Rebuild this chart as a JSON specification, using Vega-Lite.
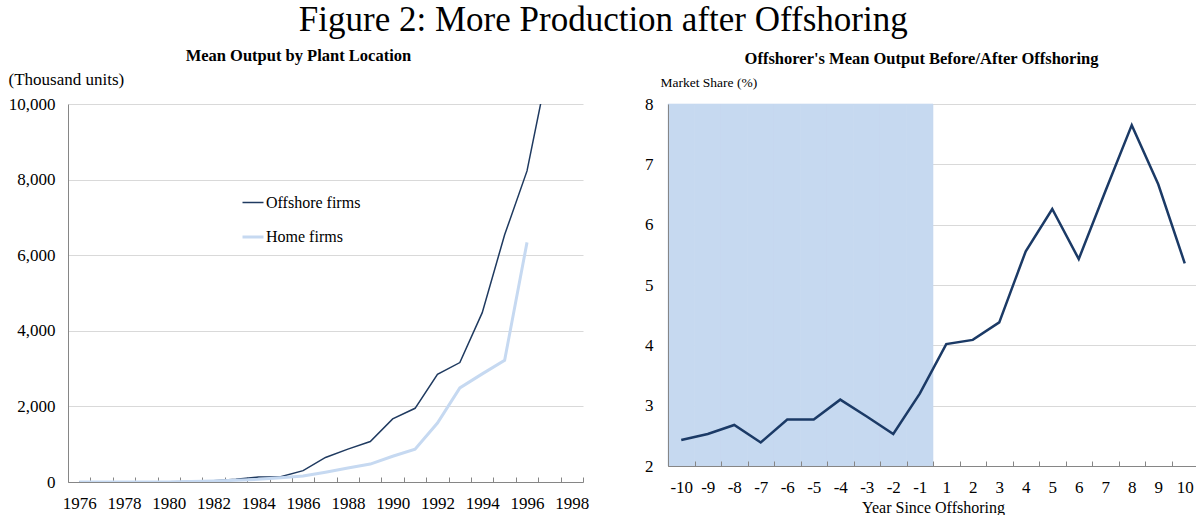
{
  "$schema": "https://vega.github.io/schema/vega-lite/v6.json",
  "padding": {"left": 8, "top": 2, "right": 0, "bottom": 0},
  "title": {"text": "Figure 2: More Production after Offshoring", "fontSize": 35, "font": "Liberation Serif", "fontWeight": "normal", "anchor": "middle", "color": "#000000", "offset": 10},
  "config": {
    "view": {"stroke": null},
    "font": "Liberation Serif",
    "axis": {"labelFont": "Liberation Serif", "titleFont": "Liberation Serif", "labelColor": "#000000", "titleColor": "#000000", "domainColor": "#868686", "tickColor": "#868686", "gridColor": "#D9D9D9", "labelFontSize": 17, "titleFontWeight": "normal"}
  },
  "spacing": 55,
  "hconcat": [
    {
      "width": 515,
      "height": 378,
      "title": {"text": "Mean Output by Plant Location", "fontSize": 16.5, "fontWeight": "bold", "frame": "bounds", "anchor": "middle", "offset": 6, "color": "#000000", "font": "Liberation Serif"},
      "data": {"values": [
        {"year": 1976, "series": "Offshore firms", "value": 0},
        {"year": 1977, "series": "Offshore firms", "value": 0},
        {"year": 1978, "series": "Offshore firms", "value": 0},
        {"year": 1979, "series": "Offshore firms", "value": 0},
        {"year": 1980, "series": "Offshore firms", "value": 5},
        {"year": 1981, "series": "Offshore firms", "value": 15},
        {"year": 1982, "series": "Offshore firms", "value": 35},
        {"year": 1983, "series": "Offshore firms", "value": 70},
        {"year": 1984, "series": "Offshore firms", "value": 130},
        {"year": 1985, "series": "Offshore firms", "value": 140},
        {"year": 1986, "series": "Offshore firms", "value": 300},
        {"year": 1987, "series": "Offshore firms", "value": 650},
        {"year": 1988, "series": "Offshore firms", "value": 870},
        {"year": 1989, "series": "Offshore firms", "value": 1070},
        {"year": 1990, "series": "Offshore firms", "value": 1670},
        {"year": 1991, "series": "Offshore firms", "value": 1950},
        {"year": 1992, "series": "Offshore firms", "value": 2850},
        {"year": 1993, "series": "Offshore firms", "value": 3160},
        {"year": 1994, "series": "Offshore firms", "value": 4480},
        {"year": 1995, "series": "Offshore firms", "value": 6540},
        {"year": 1996, "series": "Offshore firms", "value": 8230},
        {"year": 1997, "series": "Offshore firms", "value": 11150},
        {"year": 1976, "series": "Home firms", "value": 0},
        {"year": 1977, "series": "Home firms", "value": 0},
        {"year": 1978, "series": "Home firms", "value": 0},
        {"year": 1979, "series": "Home firms", "value": 0},
        {"year": 1980, "series": "Home firms", "value": 0},
        {"year": 1981, "series": "Home firms", "value": 10},
        {"year": 1982, "series": "Home firms", "value": 25},
        {"year": 1983, "series": "Home firms", "value": 45},
        {"year": 1984, "series": "Home firms", "value": 70},
        {"year": 1985, "series": "Home firms", "value": 110},
        {"year": 1986, "series": "Home firms", "value": 160},
        {"year": 1987, "series": "Home firms", "value": 260},
        {"year": 1988, "series": "Home firms", "value": 370},
        {"year": 1989, "series": "Home firms", "value": 475},
        {"year": 1990, "series": "Home firms", "value": 680},
        {"year": 1991, "series": "Home firms", "value": 870},
        {"year": 1992, "series": "Home firms", "value": 1560},
        {"year": 1993, "series": "Home firms", "value": 2490},
        {"year": 1994, "series": "Home firms", "value": 2860},
        {"year": 1995, "series": "Home firms", "value": 3220},
        {"year": 1996, "series": "Home firms", "value": 6340}
      ]},
      "mark": {"type": "line", "clip": true},
      "encoding": {
        "x": {
          "field": "year", "type": "ordinal",
          "scale": {"type": "band", "paddingInner": 0, "paddingOuter": 0, "domain": [1976,1977,1978,1979,1980,1981,1982,1983,1984,1985,1986,1987,1988,1989,1990,1991,1992,1993,1994,1995,1996,1997,1998]},
          "bandPosition": 0.5,
          "axis": {"title": null, "labelAngle": 0, "labelExpr": "datum.value % 2 == 0 ? datum.label : ''", "labelOverlap": false, "tickBand": "extent", "tickSize": -5, "labelPadding": 18, "labelFontSize": 17}
        },
        "y": {
          "field": "value", "type": "quantitative",
          "scale": {"domain": [0, 10000], "nice": false},
          "axis": {"values": [0, 2000, 4000, 6000, 8000, 10000], "format": ",d", "ticks": false, "labelPadding": 13, "labelFontSize": 17, "title": "(Thousand units)", "titleAngle": 0, "titleAlign": "left", "titleBaseline": "middle", "titleX": -60, "titleY": -25, "titleFontSize": 17}
        },
        "color": {
          "field": "series", "type": "nominal",
          "scale": {"domain": ["Offshore firms", "Home firms"], "range": ["#1F3A60", "#C6D9F1"]},
          "legend": {"title": null, "orient": "none", "legendX": 173, "legendY": 87, "symbolType": "stroke", "symbolSize": 441, "labelFontSize": 16, "labelFont": "Liberation Serif", "labelColor": "#000000", "labelOffset": 1, "rowPadding": 14, "padding": 0}
        },
        "strokeWidth": {
          "field": "series", "type": "nominal",
          "scale": {"domain": ["Offshore firms", "Home firms"], "range": [1.5, 3]},
          "legend": {"title": null, "orient": "none", "legendX": 173, "legendY": 87, "symbolType": "stroke", "symbolSize": 441, "labelFontSize": 16, "labelFont": "Liberation Serif", "labelColor": "#000000", "labelOffset": 1, "rowPadding": 14, "padding": 0}
        }
      }
    },
    {
      "width": 530,
      "height": 362,
      "title": {"text": "Offshorer's Mean Output Before/After Offshoring", "fontSize": 16.5, "fontWeight": "bold", "frame": "bounds", "anchor": "middle", "offset": 8, "color": "#000000", "font": "Liberation Serif"},
      "data": {"values": [
        {"year": -10, "share": 2.43},
        {"year": -9, "share": 2.53},
        {"year": -8, "share": 2.68},
        {"year": -7, "share": 2.39},
        {"year": -6, "share": 2.77},
        {"year": -5, "share": 2.77},
        {"year": -4, "share": 3.10},
        {"year": -3, "share": 2.82},
        {"year": -2, "share": 2.53},
        {"year": -1, "share": 3.20},
        {"year": 1, "share": 4.02},
        {"year": 2, "share": 4.09},
        {"year": 3, "share": 4.38},
        {"year": 4, "share": 5.56},
        {"year": 5, "share": 6.26},
        {"year": 6, "share": 5.43},
        {"year": 7, "share": 6.55},
        {"year": 8, "share": 7.65},
        {"year": 9, "share": 6.67},
        {"year": 10, "share": 5.36}
      ]},
      "layer": [
        {
          "transform": [{"filter": "datum.year < 0"}],
          "mark": {"type": "rect", "color": "#C6D9F0", "stroke": "#C6D9F0", "strokeWidth": 0.6},
          "encoding": {
            "x": {
              "field": "year", "type": "ordinal",
              "scale": {"type": "band", "paddingInner": 0, "paddingOuter": 0, "domain": [-10,-9,-8,-7,-6,-5,-4,-3,-2,-1,1,2,3,4,5,6,7,8,9,10]},
              "axis": {"title": "Year Since Offshoring", "titleFontSize": 16, "titlePadding": 4, "labelAngle": 0, "tickBand": "extent", "tickSize": -5, "labelPadding": 18, "labelFontSize": 17, "zindex": 1}
            },
            "y": {
              "datum": 8, "type": "quantitative",
              "scale": {"domain": [2, 8], "nice": false},
              "axis": {"orient": "left", "values": [2,3,4,5,6,7,8], "grid": true, "domain": false, "ticks": false, "labels": false, "title": null, "zindex": 0}
            },
            "y2": {"datum": 2}
          }
        },
        {
          "mark": {"type": "line", "color": "#1B3A66", "strokeWidth": 2.5},
          "encoding": {
            "x": {"field": "year", "type": "ordinal", "bandPosition": 0.5},
            "y": {
              "field": "share", "type": "quantitative",
              "axis": {"orient": "left", "values": [2,3,4,5,6,7,8], "grid": false, "ticks": false, "labelPadding": 15, "labelFontSize": 17, "title": "Market Share (%)", "titleAngle": 0, "titleAlign": "left", "titleBaseline": "middle", "titleX": -8, "titleY": -22, "titleFontSize": 13.5, "zindex": 1}
            }
          }
        }
      ],
      "resolve": {"axis": {"y": "independent"}}
    }
  ]
}
